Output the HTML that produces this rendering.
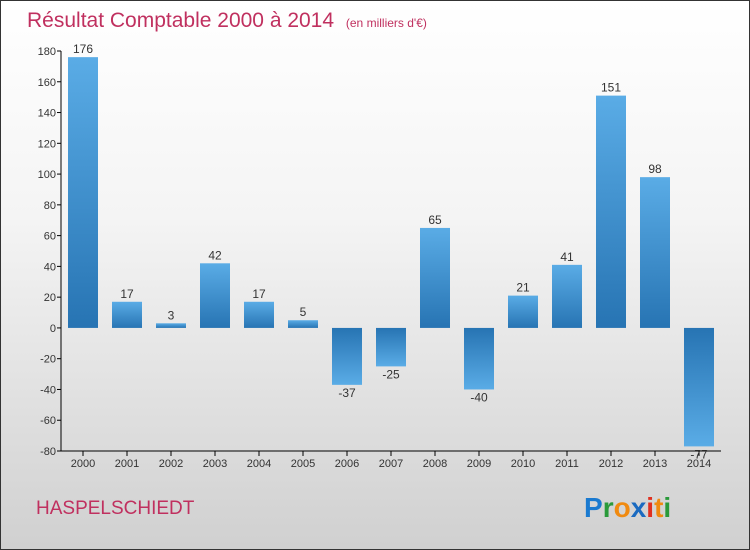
<!DOCTYPE html>
<html><head><meta charset="utf-8"><style>
body{margin:0}
#c{width:748px;height:548px;border:1px solid #333;position:relative;background:linear-gradient(#fff,#f4f4f4 40%,#d0d0d0);font-family:"Liberation Sans",sans-serif;overflow:hidden}
</style></head><body>
<div id="c">
<svg id="s" width="748" height="548" style="position:absolute;left:0;top:0">
<defs>
<linearGradient id="gp" x1="0" y1="0" x2="0" y2="1"><stop offset="0" stop-color="#5aace6"/><stop offset="1" stop-color="#2774b3"/></linearGradient>
<linearGradient id="gn" x1="0" y1="0" x2="0" y2="1"><stop offset="0" stop-color="#2774b3"/><stop offset="1" stop-color="#5aace6"/></linearGradient>
</defs>
<text x="26" y="26" font-size="21" fill="#c0305f">Résultat Comptable 2000 à 2014 <tspan font-size="12" dx="6">(en milliers d'€)</tspan></text>
<text x="35" y="513" font-size="19" fill="#c0305f">HASPELSCHIEDT</text>
<text x="583" y="516" font-size="28" font-weight="bold"><tspan fill="#1a7ad0">P</tspan><tspan fill="#2a9a3a">r</tspan><tspan fill="#f08a10">o</tspan><tspan fill="#1a6ac0">x</tspan><tspan fill="#e03020">i</tspan><tspan fill="#f08a10">t</tspan><tspan fill="#2a9a3a">i</tspan></text>
<g id="g"></g>
</svg>
</div>
<script>
const years=["2000","2001","2002","2003","2004","2005","2006","2007","2008","2009","2010","2011","2012","2013","2014"];
const values=[176,17,3,42,17,5,-37,-25,65,-40,21,41,151,98,-77];
const ticks=[180,160,140,120,100,80,60,40,20,0,-20,-40,-60,-80];
const ns="http://www.w3.org/2000/svg",g=document.getElementById('g');
const y=v=>50+(180-v)*400/260, x=i=>82+i*44;
function mk(t,a){const e=document.createElementNS(ns,t);for(const k in a)e.setAttribute(k,a[k]);g.appendChild(e);return e;}
let ax=mk('line',{x1:60,y1:50,x2:60,y2:450,stroke:'#000'});


let xa=mk('line',{x1:60,y1:450,x2:720,y2:450,stroke:'#000'});


ticks.forEach(t=>{
 let l=mk('line',{x1:56,x2:60,y1:y(t),y2:y(t),stroke:'#000'});
 
 
 let tx=mk('text',{x:55,y:y(t)+4,'font-size':11,'text-anchor':'end',fill:'#333'});tx.textContent=t;
 
 
});
years.forEach((yr,i)=>{
 const v=values[i],top=y(Math.max(v,0)),bot=y(Math.min(v,0));
 let r=mk('rect',{x:x(i)-15,y:top,width:30,height:Math.max(bot-top,1),fill:v>=0?'url(#gp)':'url(#gn)'});
 
 
 let l=mk('line',{x1:x(i),x2:x(i),y1:450,y2:455,stroke:'#000'});
 
 
 let t=mk('text',{x:x(i),y:466,'font-size':11,'text-anchor':'middle',fill:'#333'});t.textContent=yr;
 
 
 let vl=mk('text',{x:x(i),y:v>=0?top-4:bot+12,'font-size':12,'text-anchor':'middle',fill:'#333'});vl.textContent=v;
 
 
});
</script>
</body></html>
